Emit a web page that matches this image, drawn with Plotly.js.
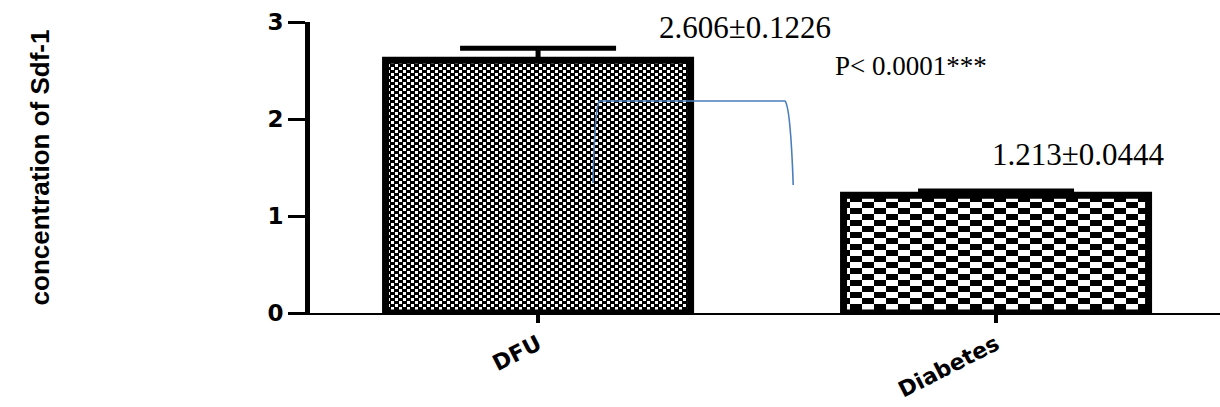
<!DOCTYPE html>
<html>
<head>
<meta charset="utf-8">
<script src="https://cdn.plot.ly/plotly-3.0.1.min.js"></script>
<style>
html,body{margin:0;padding:0;background:#fff;}
#chart{width:1220px;height:407px;}
</style>
</head>
<body>
<div id="chart"></div>
<script>
// ---- data ----
const groups = ["DFU", "Diabetes"];
const means = [2.606, 1.213];
const sems = [0.1226, 0.0444];
const pLabel = "P< 0.0001***";
const yTicks = [0, 1, 2, 3];
const yTitle = "concentration of Sdf-1";

const valueLabels = means.map((m, i) => m.toFixed(3) + "\u00B1" + sems[i].toFixed(4));

const serif = "'Liberation Serif', 'Times New Roman', serif";

const trace = {
  type: "bar",
  x: groups,
  y: means,
  marker: {
    color: "white",
    line: {color: "black", width: 7},
    pattern: {shape: ["+", "+"], size: [8, 16], solidity: 0.5, fgcolor: "black", bgcolor: "white"}
  },
  error_y: {
    type: "data",
    symmetric: false,
    array: sems,
    arrayminus: sems.map(() => 0),
    color: "black",
    thickness: 5,
    width: 78
  },
  hoverinfo: "skip"
};

const layout = {
  width: 1220,
  height: 407,
  margin: {l: 310, r: 0, t: 22, b: 94},
  paper_bgcolor: "white",
  plot_bgcolor: "white",
  showlegend: false,
  bargap: 0.334,
  xaxis: {
    type: "category",
    range: [-0.498, 1.489],
    showline: true,
    linecolor: "black",
    linewidth: 2,
    ticks: "outside",
    ticklen: 8,
    tickwidth: 4,
    tickcolor: "black",
    tickangle: -27,
    tickfont: {family: "'DejaVu Sans', Arial, sans-serif", size: 22, color: "black", weight: "bold"},
    showgrid: false,
    zeroline: false
  },
  yaxis: {
    range: [0, 3],
    tickvals: yTicks,
    ticktext: yTicks.map(String),
    showline: true,
    linecolor: "black",
    linewidth: 5,
    ticks: "outside",
    ticklen: 17,
    tickwidth: 3,
    tickcolor: "black",
    tickfont: {family: "'DejaVu Sans', Arial, sans-serif", size: 23, color: "black", weight: "bold"},
    showgrid: false,
    zeroline: false,
    automargin: true,
    title: {
      text: yTitle,
      standoff: 212,
      font: {family: "'Liberation Sans', Arial, sans-serif", size: 26, color: "black", weight: "bold"}
    }
  },
  annotations: [
    {x: groups[0], y: means[0] + sems[0], xref: "x", yref: "y", text: valueLabels[0],
     showarrow: false, xshift: 207, yshift: 1, yanchor: "bottom",
     font: {family: serif, size: 31, color: "black"}},
    {x: groups[1], y: means[1] + sems[1], xref: "x", yref: "y", text: valueLabels[1],
     showarrow: false, xshift: 82, yshift: 17, yanchor: "bottom",
     font: {family: serif, size: 31, color: "black"}},
    {x: 0.66, y: 2.55, xref: "paper", yref: "y", text: pLabel,
     showarrow: false, xanchor: "center", yanchor: "middle",
     font: {family: serif, size: 27, color: "black"}}
  ],
  shapes: [
    {type: "path", xref: "paper", yref: "y",
     path: "M 0.311,1.34 Q 0.313,2.12 0.318,2.185 L 0.522,2.185 Q 0.528,2.12 0.531,1.32",
     line: {color: "#4A7EBB", width: 1.6}}
  ]
};

function applyChecker() {
  const gd = document.getElementById("chart");
  const specs = [
    {w: 8, h: 6, rects: [[0,0,5,3],[4,3,4,3],[0,3,1,3]]},
    {w: 24, h: 12, rects: [[0,0,12,6],[12,6,12,6]]}
  ];
  const paths = gd.querySelectorAll(".barlayer .point path");
  paths.forEach((p, i) => {
    const fill = p.style.fill || p.getAttribute("fill") || "";
    const m = fill.match(/#([^"')]+)/);
    if (!m) return;
    const pat = document.getElementById(m[1]);
    if (!pat) return;
    const s = specs[i % specs.length];
    while (pat.firstChild) pat.removeChild(pat.firstChild);
    pat.setAttribute("width", s.w);
    pat.setAttribute("height", s.h);
    pat.setAttribute("patternUnits", "userSpaceOnUse");
    pat.removeAttribute("patternTransform");
    const ns = "http://www.w3.org/2000/svg";
    const bg = document.createElementNS(ns, "rect");
    bg.setAttribute("x", 0); bg.setAttribute("y", 0);
    bg.setAttribute("width", s.w); bg.setAttribute("height", s.h);
    bg.setAttribute("fill", "white");
    pat.appendChild(bg);
    s.rects.forEach(r => {
      const e = document.createElementNS(ns, "rect");
      e.setAttribute("x", r[0]); e.setAttribute("y", r[1]);
      e.setAttribute("width", r[2]); e.setAttribute("height", r[3]);
      e.setAttribute("fill", "black");
      pat.appendChild(e);
    });
  });
}

Plotly.newPlot("chart", [trace], layout, {displayModeBar: false, staticPlot: true}).then(applyChecker);
</script>
</body>
</html>
